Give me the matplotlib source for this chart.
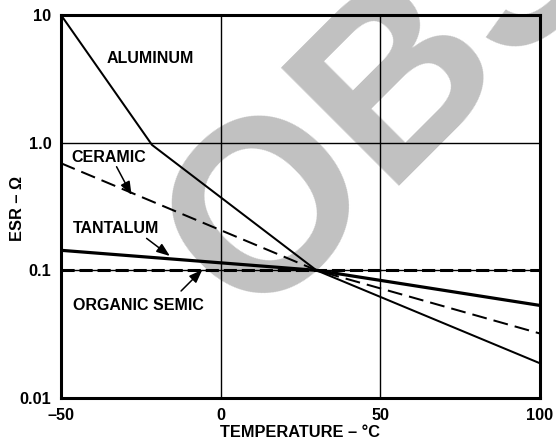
import matplotlib
matplotlib.use("Agg")
import matplotlib.pyplot as plt
from matplotlib.ticker import NullLocator

plt.rcParams['font.family'] = ['Liberation Sans', 'DejaVu Sans']
plt.rcParams['font.weight'] = 'bold'

# ---- data ----
temp_aluminum = [-50, -21.5, 30, 100]
esr_aluminum = [10, 0.96, 0.1, 0.0187]

temp_ceramic = [-50, 30, 100]
esr_ceramic = [0.69, 0.1, 0.032]

temp_tantalum = [-50, 30, 100]
esr_tantalum = [0.1435, 0.1, 0.0531]

temp_organic = [-50, 100]
esr_organic = [0.1, 0.1]

x_ticks = [-50, 0, 50, 100]
x_tick_labels = ['–50', '0', '50', '100']
y_ticks = [0.01, 0.1, 1, 10]
y_tick_labels = ['0.01', '0.1', '1.0', '10']

x_label = 'TEMPERATURE – °C'
y_label = 'ESR – Ω'

fig = plt.figure(figsize=(5.56, 4.40), dpi=100)
fig.patch.set_facecolor('white')
ax = fig.add_axes([61/556, 42/440, 479/556, 383/440])
ax.set_facecolor('none')

# watermark
fig.text(252/556, 116/440, 'OBSOLETE', rotation=45, rotation_mode='anchor',
         ha='left', va='baseline', fontsize=175, fontweight='bold',
         color='#c1c1c1', zorder=-5)

ax.set_yscale('log')
ax.set_xlim(-50, 100)
ax.set_ylim(0.01, 10)

ax.set_xticks(x_ticks)
ax.set_xticklabels(x_tick_labels)
ax.set_yticks(y_ticks)
ax.set_yticklabels(y_tick_labels)
ax.yaxis.set_minor_locator(NullLocator())
ax.tick_params(axis='both', length=0, labelsize=11.7, pad=7)
for lab in ax.get_xticklabels() + ax.get_yticklabels():
    lab.set_fontweight('bold')

ax.grid(True, which='major', color='black', linewidth=1.0)
ax.set_axisbelow(True)
for s in ax.spines.values():
    s.set_linewidth(2.2)
    s.set_zorder(5)

ax.plot(temp_aluminum, esr_aluminum, color='black', lw=1.45, zorder=4)
ax.plot(temp_ceramic, esr_ceramic, color='black', lw=1.45,
        linestyle=(0, (7.4, 3.5)), zorder=4)
ax.plot(temp_tantalum, esr_tantalum, color='black', lw=2.3, zorder=4)
ax.plot(temp_organic, esr_organic, color='black', lw=2.2,
        linestyle=(0, (4.3, 1.6)), zorder=4)

ax.set_xlabel(x_label, fontsize=11.8, fontweight='bold', va='center')
ax.xaxis.set_label_coords(0.5, (398 - 432) / 383)
ax.set_ylabel(y_label, fontsize=11.8, fontweight='bold', va='center')
ax.yaxis.set_label_coords((17 - 61) / 479, (398 - 208) / 383)

tk = dict(fontsize=11.5, fontweight='bold', ha='left', va='center')
ax.text(-35.7, 4.54, 'ALUMINUM', **tk)
ax.text(-46.6, 0.765, 'CERAMIC', **tk)
ax.text(-46.3, 0.212, 'TANTALUM', **tk)
ax.text(-46.3, 0.0535, 'ORGANIC SEMIC', **tk)

ap = dict(arrowstyle='-|>,head_length=0.8,head_width=0.3', color='black',
          lw=1.1, shrinkA=0, shrinkB=0)
ax.annotate('', xy=(-27.9, 0.389), xytext=(-32.6, 0.648), arrowprops=ap)
ax.annotate('', xy=(-15.9, 0.1295), xytext=(-23.2, 0.178), arrowprops=ap)
ax.annotate('', xy=(-5.75, 0.101), xytext=(-12.4, 0.0689), arrowprops=ap)

fig.savefig('out.png', dpi=100, facecolor='white')
